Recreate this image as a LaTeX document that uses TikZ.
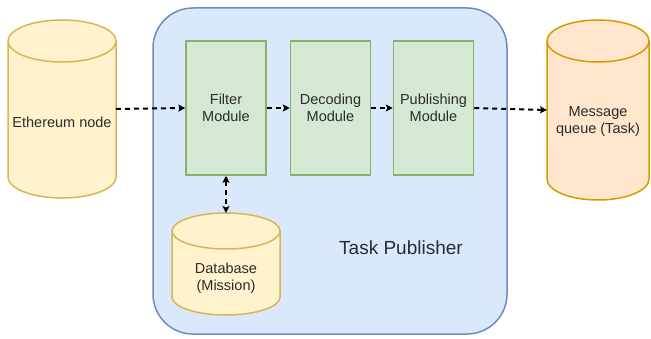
\documentclass[tikz,border=0pt]{standalone}
\usepackage{fontspec}
\setmainfont{Liberation Sans}
\usetikzlibrary{arrows.meta}

\definecolor{yelfill}{HTML}{FFF2CC}
\definecolor{yeldraw}{HTML}{D6B656}
\definecolor{orgfill}{HTML}{FFE6CC}
\definecolor{orgdraw}{HTML}{D79B00}
\definecolor{grnfill}{HTML}{D5E8D4}
\definecolor{grndraw}{HTML}{82B366}
\definecolor{blufill}{HTML}{DAE8FC}
\definecolor{bludraw}{HTML}{6C8EBF}
\definecolor{txt}{HTML}{2B2B2B}

% Drum (cylinder) outline: left x, right x, top y, bottom y, lid half-height, style
\newcommand{\drum}[6]{%
  \path[#6] (#1,#3-#5) -- (#1,#4+#5)
    arc[start angle=180,end angle=360,x radius={(#2-#1)/2},y radius=#5]
    -- (#2,#3-#5)
    arc[start angle=0,end angle=180,x radius={(#2-#1)/2},y radius=#5] -- cycle;
  \draw[#6,fill=none] (#1,#3-#5)
    arc[start angle=180,end angle=360,x radius={(#2-#1)/2},y radius=#5];
}

\tikzset{
  lbl/.style={text=txt,font=\fontsize{14.5}{17}\selectfont,align=center,inner sep=0pt},
  modbox/.style={draw=grndraw,fill=grnfill,line width=1.5pt,minimum width=80pt,
    minimum height=134pt,inner sep=0pt,text=txt,font=\fontsize{14.5}{17}\selectfont,align=center},
  yeldrum/.style={draw=yeldraw,fill=yelfill,line width=1.5pt},
  orgdrum/.style={draw=orgdraw,fill=orgfill,line width=1.5pt},
  anchorbox/.style={inner sep=0pt,outer sep=0pt},
  flow/.style={dashed,dash pattern=on 5pt off 4pt,line width=2pt,black,
    -{Stealth[length=7pt,width=7pt,inset=1.5pt]}},
  flowboth/.style={flow,{Stealth[length=7pt,width=7pt,inset=1.5pt]}-{Stealth[length=7pt,width=7pt,inset=1.5pt]}}
}

\begin{document}
\begin{tikzpicture}[x=1pt,y=1pt]
\useasboundingbox (0,0) rectangle (651,338);

% container
\draw[draw=bludraw,fill=blufill,line width=1.5pt,rounded corners=40pt]
  (153,4) rectangle (507,330);
\node[lbl,font=\fontsize{19}{22}\selectfont] (tp) at (401,90) {Task Publisher};

% storage drums
\drum{8}{116}{318}{140}{21}{yeldrum}
\node[anchorbox,minimum width=108pt,minimum height=178pt] (eth) at (62,229) {};
\node[lbl] (ethtxt) at (62,216) {Ethereum node};

\drum{547}{649}{318}{138}{21}{orgdrum}
\node[anchorbox,minimum width=102pt,minimum height=180pt] (mq) at (598,228) {};
\node[lbl] (mqtxt) at (598,216.5) {Message\\queue (Task)};

\drum{172}{280}{125}{23}{18}{yeldrum}
\node[anchorbox,minimum width=108pt,minimum height=102pt] (db) at (226,74) {};
\node[lbl] (dbtxt) at (226,59.5) {Database\\(Mission)};

% modules
\node[modbox] (filter) at (226,230) {Filter\\Module};
\node[modbox] (decode) at (330.5,230) {Decoding\\Module};
\node[modbox] (publish) at (433.5,230) {Publishing\\Module};

% connectors
\draw[flow] (eth.east) -- (filter.west);
\draw[flow] (filter.east) -- (decode.west);
\draw[flow] (decode.east) -- (publish.west);
\draw[flow] (publish.east) -- (mq.west);
\draw[flowboth] (filter.south) -- (db.north);
\end{tikzpicture}
\end{document}
